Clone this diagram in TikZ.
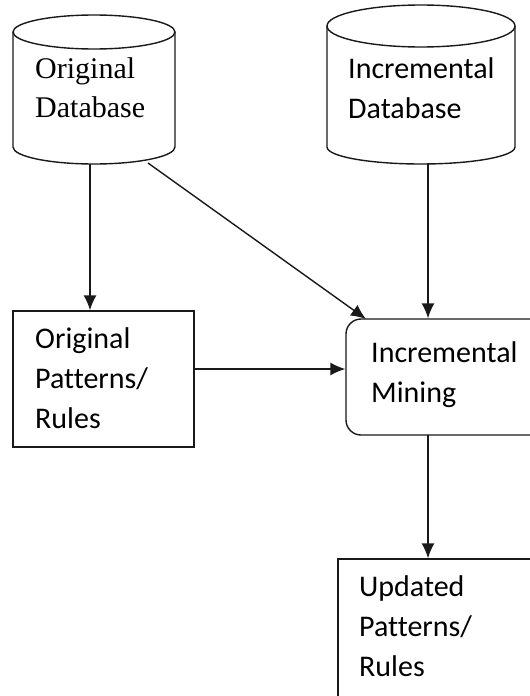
\documentclass[tikz,border=0pt]{standalone}
\usepackage{fontspec}
\setmainfont{Carlito}[Ligatures=NoCommon]
\newfontfamily\serifface{Liberation Serif}
\usetikzlibrary{arrows.meta}

\tikzset{
  outline/.style={draw=black!90, line width=1.4pt},
  flow/.style={draw=black!90, line width=1.4pt, -{Latex[length=15pt,width=13pt]}},
  % anchored on the baseline of the last line
  label/.style={anchor=base west, inner sep=0pt, align=left,
    font=\fontsize{30}{40}\selectfont},
  seriflabel/.style={label, font=\serifface\fontsize{30}{39}\selectfont},
  hull/.style={draw=none, inner sep=0pt}
}

\begin{document}
\begin{tikzpicture}[x=1pt, y=-1pt]
  \useasboundingbox (0,0) rectangle (530,696);
  \clip (0,0) rectangle (530,696);

  % --- cylinder: original database
  \node[hull, minimum width=162pt, minimum height=149pt] (odb) at (94,89.5) {};
  \draw[outline] (13,32) -- (13,147) arc[start angle=180, end angle=360, x radius=81, y radius=-17]
        -- (175,32);
  \draw[outline] (94,32) ellipse[x radius=81, y radius=17];
  \node[seriflabel] (odbtext) at (35,117) {Original\\Database};

  % --- cylinder: incremental database
  \node[hull, minimum width=188pt, minimum height=158pt] (idb) at (421,84) {};
  \draw[outline] (327,26) -- (327,147) arc[start angle=180, end angle=360, x radius=94, y radius=-17]
        -- (515,26);
  \draw[outline] (421,26) ellipse[x radius=94, y radius=21];
  \node[label] (idbtext) at (348,118) {Incremental\\Database};

  % --- original patterns / rules
  \node[outline, minimum width=181pt, minimum height=136pt] (opr) at (103.5,379) {};
  \node[label] (oprtext) at (35,428) {Original\\Patterns/\\Rules};

  % --- incremental mining (runs past the right edge)
  \node[outline, rounded corners=15pt, minimum width=200pt, minimum height=116pt] (mine) at (446,377) {};
  \node[label] (minetext) at (371,402) {Incremental\\Mining};

  % --- updated patterns / rules (runs past the right and bottom edges)
  \node[outline, minimum width=230pt, minimum height=170pt] (upr) at (453,644) {};
  \node[label] (uprtext) at (359,676) {Updated\\Patterns/\\Rules};

  % --- connectors
  \coordinate (odbfoot) at (90,164);
  \coordinate (odbside) at (148,163);
  \coordinate (minecorner) at (366,319);
  \coordinate (idbfoot) at (428,163);
  \coordinate (minefoot) at (428,435);

  \draw[flow] (odbfoot) -- (odbfoot |- opr.north);
  \draw[flow] (odbside) -- (minecorner);
  \draw[flow] (idbfoot) -- (idbfoot |- mine.north);
  \draw[flow] (opr.east |- 0,369) -- (mine.west |- 0,369);
  \draw[flow] (minefoot) -- (minefoot |- upr.north);
\end{tikzpicture}
\end{document}
